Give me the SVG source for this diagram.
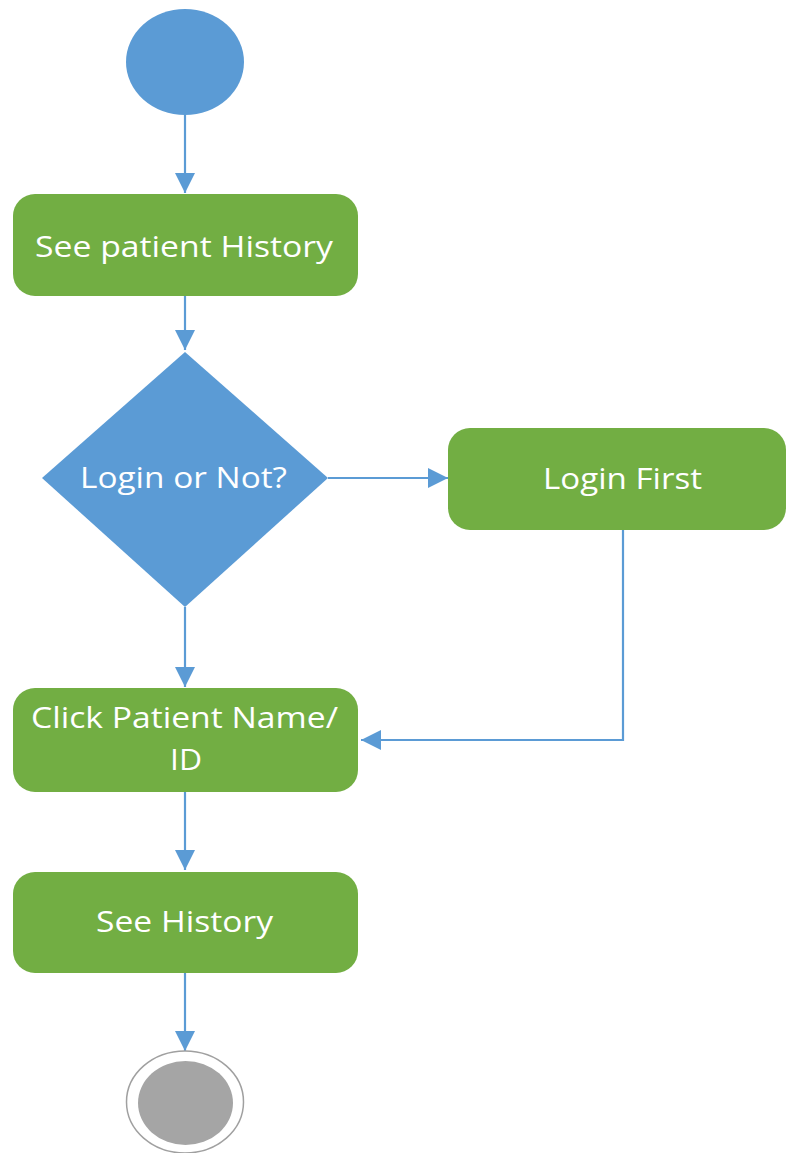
<svg xmlns="http://www.w3.org/2000/svg" width="786" height="1153" viewBox="0 0 786 1153">
<style>
.act{fill:#72ae43;}
.dec{fill:#5b9bd5;}
.lbl{fill:#ffffff;font-family:"Open Sans","Noto Sans","DejaVu Sans",sans-serif;font-size:29px;text-anchor:middle;}
.con{fill:none;stroke:#5b9bd5;stroke-width:2.2;marker-end:url(#arr);}
</style>
<defs>
<marker id="arr" markerUnits="userSpaceOnUse" markerWidth="20" markerHeight="20" refX="18" refY="9" orient="auto" viewBox="0 0 18 18">
<path d="M0,0 L18,9 L0,18 z" fill="#5b9bd5"/>
</marker>
</defs>
<rect width="786" height="1153" fill="#ffffff"/>
<g id="connectors">
<path class="con" d="M185,115 L185,193"/>
<path class="con" d="M185,296 L185,350"/>
<path class="con" d="M328,478 L448,478"/>
<path class="con" d="M185,607 L185,687"/>
<path class="con" d="M623,530 L623,740 L361,740"/>
<path class="con" d="M185,792 L185,870"/>
<path class="con" d="M185,973 L185,1051"/>
</g>
<g id="start">
<ellipse cx="185" cy="62" rx="59" ry="53" fill="#5b9bd5"/>
</g>
<g id="see-patient-history">
<rect class="act" x="13" y="194" width="345" height="102" rx="22"/>
<text class="lbl" x="184" y="257" textLength="298" lengthAdjust="spacingAndGlyphs">See patient History</text>
</g>
<g id="login-or-not">
<polygon class="dec" points="185,352 328,478 185,607 42,478"/>
<text class="lbl" x="183.5" y="488" textLength="207" lengthAdjust="spacingAndGlyphs">Login or Not?</text>
</g>
<g id="login-first">
<rect class="act" x="448" y="428" width="338" height="102" rx="22"/>
<text class="lbl" x="622.5" y="489" textLength="159" lengthAdjust="spacingAndGlyphs">Login First</text>
</g>
<g id="click-patient">
<rect class="act" x="13" y="688" width="345" height="104" rx="22"/>
<text class="lbl" x="184.5" y="728" textLength="307" lengthAdjust="spacingAndGlyphs">Click Patient Name/</text>
<text class="lbl" x="186" y="770" textLength="32" lengthAdjust="spacingAndGlyphs">ID</text>
</g>
<g id="see-history">
<rect class="act" x="13" y="872" width="345" height="101" rx="22"/>
<text class="lbl" x="184.5" y="932" textLength="177" lengthAdjust="spacingAndGlyphs">See History</text>
</g>
<g id="end">
<ellipse cx="185" cy="1102" rx="58.5" ry="51" fill="#ffffff" stroke="#a0a0a0" stroke-width="1.5"/>
<ellipse cx="185.5" cy="1103" rx="47.5" ry="42" fill="#a5a5a5"/>
</g>
</svg>
